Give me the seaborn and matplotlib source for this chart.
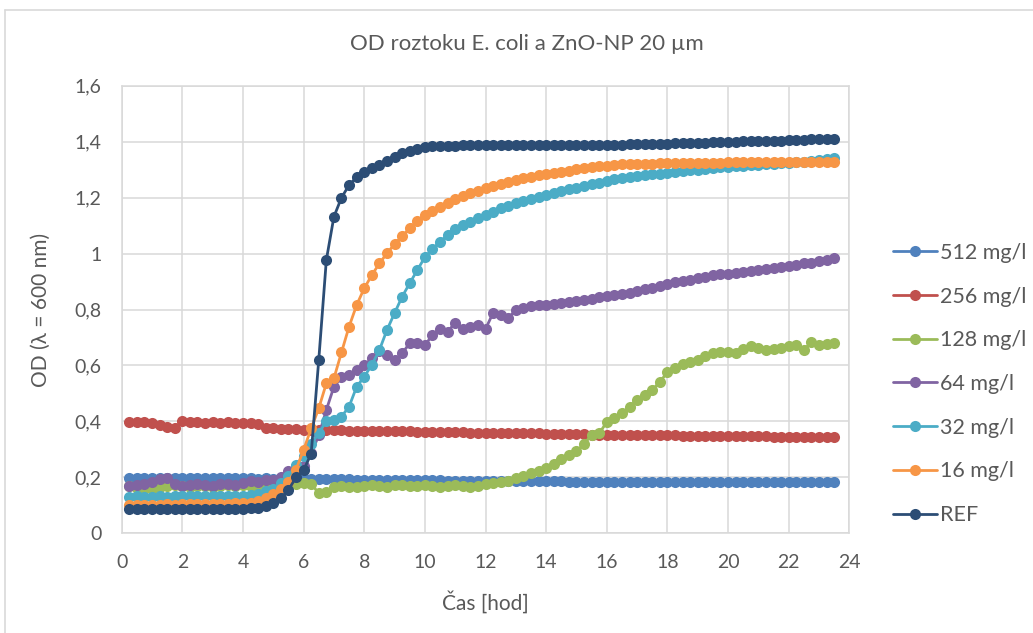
import pandas as pd
import seaborn as sns
import matplotlib.pyplot as plt
from matplotlib.lines import Line2D

# measurement times [h], every 15 min
hodiny = [
    0.25, 0.5, 0.75, 1.0, 1.25, 1.5, 1.75, 2.0,
    2.25, 2.5, 2.75, 3.0, 3.25, 3.5, 3.75, 4.0,
    4.25, 4.5, 4.75, 5.0, 5.25, 5.5, 5.75, 6.0,
    6.25, 6.5, 6.75, 7.0, 7.25, 7.5, 7.75, 8.0,
    8.25, 8.5, 8.75, 9.0, 9.25, 9.5, 9.75, 10.0,
    10.25, 10.5, 10.75, 11.0, 11.25, 11.5, 11.75, 12.0,
    12.25, 12.5, 12.75, 13.0, 13.25, 13.5, 13.75, 14.0,
    14.25, 14.5, 14.75, 15.0, 15.25, 15.5, 15.75, 16.0,
    16.25, 16.5, 16.75, 17.0, 17.25, 17.5, 17.75, 18.0,
    18.25, 18.5, 18.75, 19.0, 19.25, 19.5, 19.75, 20.0,
    20.25, 20.5, 20.75, 21.0, 21.25, 21.5, 21.75, 22.0,
    22.25, 22.5, 22.75, 23.0, 23.25, 23.5,
]

od_512 = [
    0.198, 0.197, 0.198, 0.197, 0.197, 0.198, 0.197, 0.196,
    0.197, 0.196, 0.197, 0.196, 0.196, 0.197, 0.196, 0.196,
    0.196, 0.195, 0.196, 0.195, 0.195, 0.194, 0.195, 0.194,
    0.195, 0.194, 0.194, 0.193, 0.193, 0.193, 0.192, 0.192,
    0.192, 0.191, 0.191, 0.191, 0.190, 0.190, 0.190, 0.189,
    0.189, 0.189, 0.188, 0.188, 0.188, 0.188, 0.187, 0.187,
    0.187, 0.187, 0.187, 0.186, 0.186, 0.186, 0.186, 0.186,
    0.186, 0.186, 0.185, 0.185, 0.185, 0.185, 0.185, 0.185,
    0.185, 0.185, 0.185, 0.185, 0.185, 0.185, 0.185, 0.184,
    0.184, 0.184, 0.184, 0.184, 0.184, 0.184, 0.184, 0.184,
    0.184, 0.184, 0.184, 0.184, 0.184, 0.184, 0.184, 0.184,
    0.184, 0.184, 0.184, 0.184, 0.184, 0.184,
]

od_256 = [
    0.399, 0.398, 0.399, 0.395, 0.388, 0.380, 0.378, 0.401,
    0.398, 0.397, 0.396, 0.397, 0.396, 0.397, 0.395, 0.396,
    0.394, 0.389, 0.378, 0.375, 0.374, 0.373, 0.372, 0.371,
    0.370, 0.370, 0.369, 0.368, 0.368, 0.367, 0.367, 0.366,
    0.366, 0.365, 0.365, 0.365, 0.364, 0.364, 0.363, 0.363,
    0.362, 0.362, 0.362, 0.361, 0.361, 0.360, 0.360, 0.360,
    0.359, 0.359, 0.358, 0.358, 0.358, 0.357, 0.357, 0.356,
    0.356, 0.355, 0.355, 0.354, 0.354, 0.353, 0.353, 0.352,
    0.352, 0.352, 0.351, 0.351, 0.351, 0.350, 0.350, 0.350,
    0.350, 0.349, 0.349, 0.349, 0.349, 0.348, 0.348, 0.348,
    0.348, 0.347, 0.347, 0.347, 0.347, 0.346, 0.346, 0.346,
    0.346, 0.345, 0.345, 0.345, 0.345, 0.345,
]

od_128 = [
    0.168, 0.163, 0.158, 0.160, 0.165, 0.170, 0.172, 0.168,
    0.166, 0.168, 0.170, 0.167, 0.169, 0.171, 0.168, 0.172,
    0.170, 0.173, 0.172, 0.175, 0.178, 0.180, 0.178, 0.181,
    0.177, 0.143, 0.148, 0.166, 0.168, 0.167, 0.165, 0.168,
    0.172, 0.170, 0.167, 0.171, 0.174, 0.170, 0.168, 0.171,
    0.170, 0.167, 0.169, 0.172, 0.168, 0.167, 0.170, 0.175,
    0.180, 0.184, 0.188, 0.196, 0.205, 0.214, 0.222, 0.232,
    0.248, 0.265, 0.280, 0.295, 0.318, 0.353, 0.357, 0.398,
    0.412, 0.430, 0.452, 0.477, 0.495, 0.512, 0.542, 0.575,
    0.592, 0.604, 0.612, 0.620, 0.635, 0.645, 0.648, 0.649,
    0.644, 0.660, 0.671, 0.664, 0.655, 0.660, 0.664, 0.668,
    0.673, 0.655, 0.685, 0.673, 0.676, 0.679,
]

od_64 = [
    0.168, 0.172, 0.176, 0.182, 0.195, 0.198, 0.176, 0.168,
    0.172, 0.178, 0.174, 0.170, 0.176, 0.178, 0.172, 0.180,
    0.186, 0.182, 0.190, 0.192, 0.200, 0.222, 0.238, 0.240,
    0.286, 0.350, 0.441, 0.524, 0.558, 0.567, 0.585, 0.600,
    0.625, 0.652, 0.636, 0.618, 0.644, 0.679, 0.680, 0.673,
    0.708, 0.729, 0.721, 0.752, 0.730, 0.738, 0.744, 0.730,
    0.788, 0.780, 0.770, 0.798, 0.806, 0.812, 0.815, 0.818,
    0.821, 0.824, 0.826, 0.830, 0.834, 0.838, 0.844, 0.850,
    0.852, 0.855, 0.858, 0.868, 0.872, 0.878, 0.884, 0.892,
    0.898, 0.902, 0.906, 0.912, 0.918, 0.922, 0.926, 0.928,
    0.932, 0.935, 0.938, 0.940, 0.944, 0.948, 0.952, 0.955,
    0.960, 0.965, 0.968, 0.972, 0.977, 0.983,
]

od_32 = [
    0.131, 0.132, 0.130, 0.131, 0.132, 0.131, 0.132, 0.133,
    0.132, 0.133, 0.132, 0.133, 0.134, 0.133, 0.134, 0.135,
    0.137, 0.142, 0.150, 0.160, 0.180, 0.205, 0.245, 0.275,
    0.320, 0.357, 0.402, 0.405, 0.417, 0.453, 0.524, 0.560,
    0.602, 0.655, 0.727, 0.787, 0.846, 0.894, 0.941, 0.987,
    1.016, 1.043, 1.066, 1.088, 1.102, 1.114, 1.126, 1.138,
    1.150, 1.162, 1.171, 1.180, 1.188, 1.195, 1.203, 1.210,
    1.217, 1.224, 1.230, 1.236, 1.242, 1.248, 1.254, 1.260,
    1.265, 1.269, 1.273, 1.276, 1.280, 1.283, 1.286, 1.289,
    1.292, 1.295, 1.298, 1.300, 1.303, 1.305, 1.308, 1.310,
    1.312, 1.314, 1.316, 1.318, 1.319, 1.321, 1.323, 1.325,
    1.327, 1.329, 1.332, 1.335, 1.338, 1.341,
]

od_16 = [
    0.100, 0.101, 0.102, 0.101, 0.102, 0.103, 0.102, 0.103,
    0.104, 0.103, 0.104, 0.105, 0.105, 0.106, 0.107, 0.108,
    0.110, 0.115, 0.125, 0.140, 0.160, 0.185, 0.228, 0.298,
    0.375, 0.447, 0.536, 0.554, 0.647, 0.739, 0.816, 0.876,
    0.923, 0.965, 1.001, 1.034, 1.063, 1.090, 1.117, 1.138,
    1.152, 1.167, 1.180, 1.195, 1.206, 1.216, 1.225, 1.233,
    1.242, 1.250, 1.257, 1.263, 1.269, 1.275, 1.280, 1.285,
    1.289, 1.293, 1.297, 1.301, 1.305, 1.309, 1.312, 1.314,
    1.317, 1.319, 1.320, 1.321, 1.322, 1.322, 1.323, 1.323,
    1.324, 1.324, 1.324, 1.325, 1.325, 1.325, 1.325, 1.326,
    1.326, 1.326, 1.326, 1.326, 1.326, 1.326, 1.326, 1.326,
    1.326, 1.326, 1.326, 1.326, 1.326, 1.326,
]

od_ref = [
    0.086, 0.086, 0.086, 0.086, 0.086, 0.086, 0.086, 0.086,
    0.086, 0.086, 0.087, 0.087, 0.087, 0.087, 0.088, 0.088,
    0.090, 0.092, 0.098, 0.109, 0.125, 0.155, 0.200, 0.225,
    0.285, 0.620, 0.977, 1.132, 1.200, 1.245, 1.273, 1.290,
    1.305, 1.318, 1.330, 1.345, 1.358, 1.368, 1.375, 1.380,
    1.383, 1.385, 1.386, 1.386, 1.387, 1.387, 1.387, 1.387,
    1.387, 1.388, 1.388, 1.388, 1.388, 1.388, 1.388, 1.388,
    1.388, 1.388, 1.388, 1.388, 1.388, 1.388, 1.389, 1.389,
    1.390, 1.390, 1.391, 1.391, 1.392, 1.392, 1.393, 1.393,
    1.394, 1.395, 1.396, 1.396, 1.397, 1.398, 1.398, 1.399,
    1.400, 1.401, 1.401, 1.402, 1.403, 1.403, 1.404, 1.405,
    1.406, 1.407, 1.408, 1.409, 1.410, 1.411,
]

serie = ["512 mg/l", "256 mg/l", "128 mg/l", "64 mg/l", "32 mg/l", "16 mg/l", "REF"]
hodnoty = [od_512, od_256, od_128, od_64, od_32, od_16, od_ref]
barvy = ["#4F81BD", "#C0504D", "#9BBB59", "#8064A2", "#4BACC6", "#F79646", "#2C4D75"]

x_ticks = [0, 2, 4, 6, 8, 10, 12, 14, 16, 18, 20, 22, 24]
y_ticks = [0, 0.2, 0.4, 0.6, 0.8, 1.0, 1.2, 1.4, 1.6]
y_tick_labels = ["0", "0,2", "0,4", "0,6", "0,8", "1", "1,2", "1,4", "1,6"]

df = pd.concat(
    [pd.DataFrame({"hod": hodiny, "OD": v, "serie": s}) for s, v in zip(serie, hodnoty)],
    ignore_index=True,
)

sns.set_style("white")
plt.rcParams["font.family"] = ["Lato", "DejaVu Sans"]
text_c = "#595959"
grid_c = "#D9D9D9"

fig = plt.figure(figsize=(10.33, 6.33), dpi=100)
ax = fig.add_axes([0.1178, 0.1575, 0.7044, 0.707])

sns.lineplot(data=df, x="hod", y="OD", hue="serie", hue_order=serie,
             palette=barvy, estimator=None, sort=False, marker="o",
             markersize=8, markeredgewidth=0, linewidth=2.0,
             legend=False, ax=ax)

ax.set_xlim(0, 24)
ax.set_ylim(0, 1.6)
ax.set_xticks(x_ticks)
ax.set_yticks(y_ticks)
ax.set_yticklabels(y_tick_labels)
ax.grid(True, color=grid_c, linewidth=1.1)
ax.set_axisbelow(True)
for sp in ax.spines.values():
    sp.set_color(grid_c)
    sp.set_linewidth(1.1)
ax.tick_params(axis="x", length=0, pad=15, labelsize=14, labelcolor=text_c)
ax.tick_params(axis="y", length=0, pad=14.5, labelsize=14, labelcolor=text_c)

ax.set_xlabel("Čas [hod]", fontsize=15, color=text_c)
ax.set_ylabel("OD (λ = 600 nm)", fontsize=15, color=text_c)
ax.xaxis.set_label_coords(0.5, -0.129)
ax.yaxis.set_label_coords(-0.097, 0.5)

fig.text(0.51, 1 - 44 / 633, "OD roztoku E. coli a ZnO-NP 20 µm",
         ha="center", va="center", fontsize=16, color=text_c)

handles = [Line2D([], [], color=c, marker="o", markersize=8,
                  markeredgewidth=0, linewidth=2.0) for c in barvy]
fig.legend(handles, serie, loc="center left", bbox_to_anchor=(893 / 1033, 1 - 384 / 633),
           frameon=False, fontsize=15.5, labelcolor=text_c, borderpad=0,
           borderaxespad=0, handlelength=2.05, handletextpad=0.15, labelspacing=1.1)

# chart area border (left and top edges visible)
fig.add_artist(Line2D([5 / 1033, 5 / 1033], [0, 1 - 10 / 633], color=grid_c, linewidth=1.2))
fig.add_artist(Line2D([5 / 1033, 1], [1 - 10 / 633, 1 - 10 / 633], color=grid_c, linewidth=1.2))

fig.savefig("out.png", dpi=100)
